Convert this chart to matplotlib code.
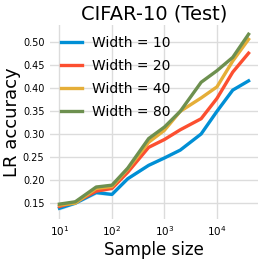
import numpy as np
import matplotlib
matplotlib.use("Agg")
import matplotlib.pyplot as plt

sample_sizes = [10, 20, 50, 100, 200, 500, 1000, 2000, 5000, 10000, 20000, 40000]
widths = [10, 20, 40, 80]
acc_w10 = [0.139, 0.150, 0.173, 0.169, 0.203, 0.232, 0.248, 0.265, 0.300, 0.349, 0.395, 0.415]
acc_w20 = [0.143, 0.152, 0.176, 0.182, 0.217, 0.271, 0.288, 0.309, 0.333, 0.377, 0.434, 0.475]
acc_w40 = [0.146, 0.150, 0.182, 0.186, 0.224, 0.282, 0.308, 0.349, 0.378, 0.402, 0.458, 0.505]
acc_w80 = [0.148, 0.153, 0.185, 0.189, 0.226, 0.290, 0.315, 0.349, 0.412, 0.437, 0.466, 0.516]
acc_std = [0.004, 0.003, 0.004, 0.003, 0.002, 0.002, 0.002, 0.001, 0.001, 0.001, 0.001, 0.001]

colors = ["#008fd5", "#fc4f30", "#e5ae38", "#6d904f"]

fig = plt.figure(figsize=(2.66, 2.6), dpi=100)
ax = fig.add_axes([0.188, 0.158, 0.782, 0.746])

x = np.array(sample_sizes)
s = np.array(acc_std)
for w, acc, c in zip(widths, [acc_w10, acc_w20, acc_w40, acc_w80], colors):
    a = np.array(acc)
    ax.fill_between(x, a - s, a + s, color=c, alpha=0.2, lw=0)
    ax.plot(x, a, color=c, lw=2.4, label="Width = %d" % w)

ax.set_xscale("log")
ax.minorticks_off()
ax.set_yticks([0.15, 0.20, 0.25, 0.30, 0.35, 0.40, 0.45, 0.50])
ax.set_xticks([10, 100, 1000, 10000])
ax.tick_params(length=0, labelsize=7, pad=4)
ax.tick_params(axis="x", labelsize=7.5)
ax.grid(True, color="#dcdcdc", lw=1)
ax.set_axisbelow(True)
for sp in ax.spines.values():
    sp.set_visible(False)

ax.set_title("CIFAR-10 (Test)", fontsize=14, pad=4)
ax.set_xlabel("Sample size", fontsize=12, labelpad=2)
ax.set_ylabel("LR accuracy", fontsize=13, labelpad=1)
ax.legend(loc="upper left", fontsize=10, frameon=False, handlelength=1.5,
          labelspacing=0.65, borderaxespad=0.4, handletextpad=0.7)

fig.savefig("out.png", dpi=100)
